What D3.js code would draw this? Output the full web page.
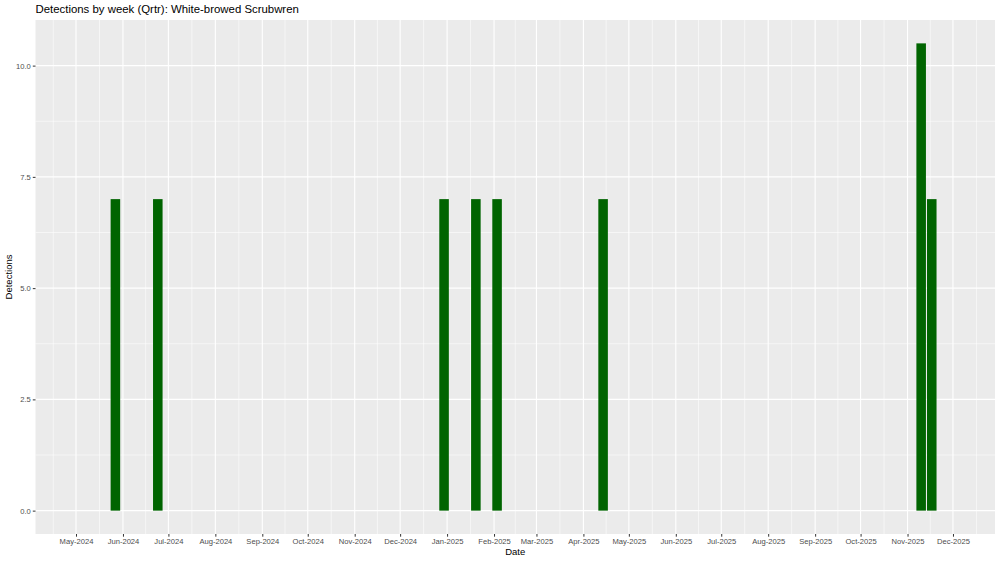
<!DOCTYPE html>
<html>
<head>
<meta charset="utf-8">
<script src="https://cdn.jsdelivr.net/npm/d3@7"></script>
<style>
  body { margin: 0; background: #fff; }
  svg { display: block; font-family: "Liberation Sans", Arial, sans-serif; }
</style>
</head>
<body>
<svg width="1000" height="562"></svg>
<script>
'use strict'

// weekly detections (week starting Monday)
const weeks = ['2024-05-27', '2024-06-24', '2024-12-30', '2025-01-20', '2025-02-03', '2025-04-14', '2025-11-10', '2025-11-17']
const detections = [7, 7, 7, 7, 7, 7, 10.5, 7]
const yTicks = [0, 2.5, 5, 7.5, 10]
const yMinor = [1.25, 3.75, 6.25, 8.75]
const title = 'Detections by week (Qrtr): White-browed Scrubwren'

const parse = d3.timeParse('%Y-%m-%d')
const data = weeks.map((w, i) => ({ date: parse(w), n: detections[i] }))

const svg = d3.select('svg')
const panel = { left: 35.5, right: 995, top: 20, bottom: 534 }
const DAY = 864e5

const x = d3.scaleTime()
  .domain([new Date(2024, 3, 4, 6), new Date(2025, 11, 28, 18)])
  .range([panel.left, panel.right])

const y = d3.scaleLinear()
  .domain([-0.525, 11.025])
  .range([panel.bottom, panel.top])

svg.append('rect')
  .attr('x', panel.left).attr('y', panel.top)
  .attr('width', panel.right - panel.left)
  .attr('height', panel.bottom - panel.top)
  .attr('fill', '#ebebeb')

// month breaks, minor breaks half way between
const majors = d3.timeMonth.range(new Date(2024, 3, 1), new Date(2026, 0, 2))
const minors = majors.slice(1).map((m, i) => new Date((+m + +majors[i]) / 2))
const visMajors = majors.filter(d => d >= x.domain()[0] && d <= x.domain()[1])

const grid = svg.append('g')
grid.selectAll('.xmin').data(minors.filter(d => d >= x.domain()[0] && d <= x.domain()[1]))
  .enter().append('line')
  .attr('x1', d => x(d)).attr('x2', d => x(d))
  .attr('y1', panel.top).attr('y2', panel.bottom)
  .attr('stroke', '#fff').attr('stroke-width', 0.55)
grid.selectAll('.ymin').data(yMinor)
  .enter().append('line')
  .attr('x1', panel.left).attr('x2', panel.right)
  .attr('y1', d => y(d)).attr('y2', d => y(d))
  .attr('stroke', '#fff').attr('stroke-width', 0.55)
grid.selectAll('.xmaj').data(visMajors)
  .enter().append('line')
  .attr('x1', d => x(d)).attr('x2', d => x(d))
  .attr('y1', panel.top).attr('y2', panel.bottom)
  .attr('stroke', '#fff').attr('stroke-width', 1.1)
grid.selectAll('.ymaj').data(yTicks)
  .enter().append('line')
  .attr('x1', panel.left).attr('x2', panel.right)
  .attr('y1', d => y(d)).attr('y2', d => y(d))
  .attr('stroke', '#fff').attr('stroke-width', 1.1)

// bars, 90% of a week wide
const half = 0.45 * 7 * DAY
svg.append('g').selectAll('rect')
  .data(data)
  .enter().append('rect')
  .attr('x', d => x(new Date(+d.date - half)))
  .attr('width', d => x(new Date(+d.date + half)) - x(new Date(+d.date - half)))
  .attr('y', d => y(d.n))
  .attr('height', d => y(0) - y(d.n))
  .attr('fill', '#006400')

// axes
const xAxis = svg.append('g')
  .attr('transform', `translate(0,${panel.bottom})`)
  .call(d3.axisBottom(x).tickValues(visMajors).tickFormat(d3.timeFormat('%b-%Y')).tickSize(2.7).tickPadding(2))
const yAxis = svg.append('g')
  .attr('transform', `translate(${panel.left},0)`)
  .call(d3.axisLeft(y).tickValues(yTicks).tickFormat(d3.format('.1f')).tickSize(2.7).tickPadding(2))

for (const ax of [xAxis, yAxis]) {
  ax.select('.domain').remove()
  ax.selectAll('.tick line').attr('stroke', '#333').attr('stroke-width', 1)
  ax.selectAll('.tick text').attr('fill', '#4d4d4d').style('font-size', '7.6px')
}

svg.append('text')
  .attr('x', panel.left).attr('y', 13)
  .style('font-size', '11.4px')
  .text(title)

svg.append('text')
  .attr('x', (panel.left + panel.right) / 2).attr('y', 555)
  .attr('text-anchor', 'middle')
  .style('font-size', '9.5px')
  .text('Date')

svg.append('text')
  .attr('transform', `translate(12,${(panel.top + panel.bottom) / 2}) rotate(-90)`)
  .attr('text-anchor', 'middle')
  .style('font-size', '9.5px')
  .text('Detections')
</script>
</body>
</html>
